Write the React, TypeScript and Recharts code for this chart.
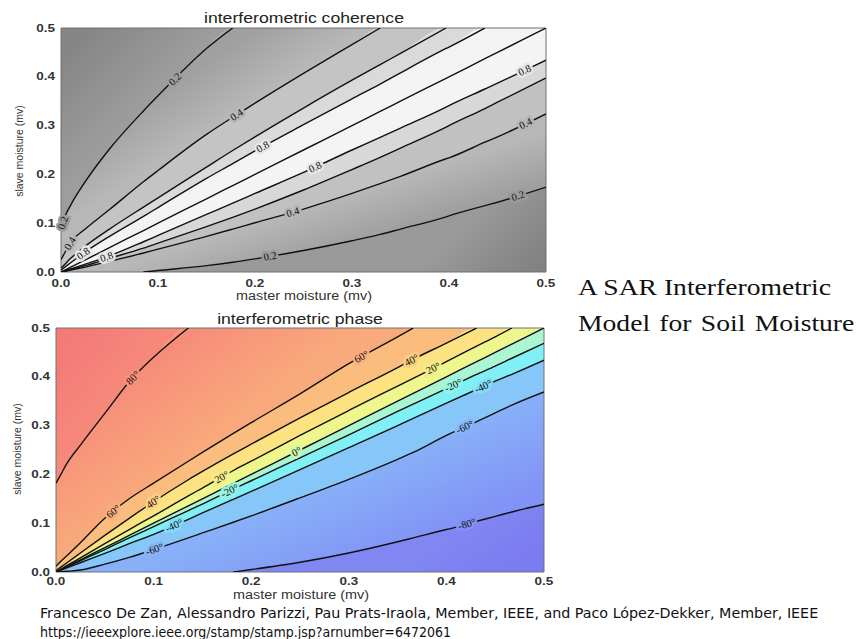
import React from "react";
import {
  ComposedChart,
  Area,
  Line,
  XAxis,
  YAxis,
  ReferenceDot,
  ReferenceArea,
} from "recharts";

// coherence contours, slave moisture read at a common master moisture grid
const cohX = [0, 0.004, 0.01, 0.025, 0.05, 0.085, 0.1, 0.15, 0.177, 0.2, 0.25, 0.3, 0.329, 0.35, 0.397, 0.4, 0.437, 0.45, 0.5];
const coh02a = [0.088, 0.113, 0.137, 0.185, 0.252, 0.33, 0.361, 0.458, 0.5, null, null, null, null, null, null, null, null, null, null];
const coh04a = [0.025, 0.04, 0.061, 0.088, 0.128, 0.185, 0.208, 0.282, 0.317, 0.346, 0.407, 0.466, 0.5, null, null, null, null, null, null];
const coh06a = [0.008, 0.016, 0.028, 0.053, 0.088, 0.133, 0.152, 0.215, 0.249, 0.277, 0.336, 0.393, 0.425, 0.448, 0.5, null, null, null, null];
const coh08a = [0.004, 0.01, 0.019, 0.041, 0.073, 0.114, 0.132, 0.192, 0.222, 0.248, 0.302, 0.355, 0.385, 0.408, 0.458, 0.461, 0.5, null, null];
const coh10 = [0, 0.004, 0.01, 0.025, 0.05, 0.085, 0.1, 0.15, 0.177, 0.2, 0.25, 0.3, 0.329, 0.35, 0.397, 0.4, 0.437, 0.45, 0.5];
const coh08b = [0, 0.0025, 0.0065, 0.016, 0.033, 0.062, 0.075, 0.118, 0.141, 0.161, 0.204, 0.25, 0.276, 0.295, 0.338, 0.341, 0.375, 0.387, 0.434];
const coh06b = [0, 0.002, 0.005, 0.013, 0.028, 0.049, 0.059, 0.093, 0.112, 0.129, 0.168, 0.21, 0.235, 0.254, 0.297, 0.3, 0.335, 0.348, 0.3975];
const coh04b = [0, 0.0015, 0.004, 0.01, 0.022, 0.039, 0.047, 0.073, 0.088, 0.101, 0.129, 0.161, 0.181, 0.196, 0.232, 0.234, 0.266, 0.277, 0.324];
const coh02b = [null, null, null, null, null, 0, 0.003, 0.013, 0.02, 0.027, 0.044, 0.064, 0.077, 0.088, 0.113, 0.115, 0.136, 0.143, 0.174];

// phase contours (degrees), same idea
const phX = [0, 0.005, 0.012, 0.025, 0.05, 0.075, 0.1, 0.1356, 0.15, 0.1817, 0.2, 0.25, 0.3, 0.35, 0.366, 0.4, 0.431, 0.45, 0.467, 0.5];
const ph80 = [0.182, 0.2, 0.225, 0.26, 0.325, 0.39, 0.44, 0.5, null, null, null, null, null, null, null, null, null, null, null, null];
const ph60 = [0.012, 0.022, 0.035, 0.06, 0.11, 0.15, 0.182, 0.227, 0.245, 0.284, 0.306, 0.365, 0.427, 0.482, 0.5, null, null, null, null, null];
const ph40 = [0.003, 0.01, 0.02, 0.039, 0.075, 0.11, 0.144, 0.189, 0.206, 0.242, 0.262, 0.316, 0.368, 0.419, 0.436, 0.469, 0.5, null, null, null];
const ph20 = [0, 0.006, 0.014, 0.029, 0.058, 0.087, 0.115, 0.156, 0.172, 0.208, 0.227, 0.28, 0.331, 0.381, 0.397, 0.431, 0.463, 0.482, 0.5, null];
const ph0 = [0, 0.005, 0.012, 0.025, 0.05, 0.075, 0.1, 0.1356, 0.15, 0.1817, 0.2, 0.25, 0.3, 0.35, 0.366, 0.4, 0.431, 0.45, 0.467, 0.5];
const phm20 = [0, 0.0045, 0.011, 0.023, 0.046, 0.07, 0.093, 0.126, 0.139, 0.17, 0.187, 0.234, 0.281, 0.329, 0.344, 0.376, 0.405, 0.422, 0.438, 0.4686];
const phm40 = [0, 0.0038, 0.009, 0.019, 0.038, 0.058, 0.077, 0.108, 0.121, 0.149, 0.165, 0.21, 0.255, 0.3, 0.315, 0.346, 0.374, 0.391, 0.405, 0.434];
const phm60 = [0, 0.0005, 0.0015, 0.004, 0.016, 0.03, 0.046, 0.07, 0.08, 0.102, 0.115, 0.152, 0.19, 0.231, 0.245, 0.28, 0.308, 0.326, 0.342, 0.369];
const phm80 = [null, null, null, null, null, null, null, null, null, 0, 0.005, 0.02, 0.039, 0.062, 0.07, 0.087, 0.104, 0.114, 0.123, 0.139];

const axisTicks = [0, 0.1, 0.2, 0.3, 0.4, 0.5];

type Lbl = { line: string; x: number; text: string };

const cohLabels: Lbl[] = [
  { line: "a02", x: 0.1175, text: "0.2" },
  { line: "a02", x: 0.002, text: "0.2" },
  { line: "a04", x: 0.181, text: "0.4" },
  { line: "a04", x: 0.0093, text: "0.4" },
  { line: "a08", x: 0.208, text: "0.8" },
  { line: "a08", x: 0.023, text: "0.8" },
  { line: "b08", x: 0.262, text: "0.8" },
  { line: "b08", x: 0.047, text: "0.8" },
  { line: "b08", x: 0.478, text: "0.8" },
  { line: "b04", x: 0.239, text: "0.4" },
  { line: "b04", x: 0.479, text: "0.4" },
  { line: "b02", x: 0.2155, text: "0.2" },
  { line: "b02", x: 0.471, text: "0.2" },
];

const phLabels: Lbl[] = [
  { line: "p80", x: 0.079, text: "80°" },
  { line: "p60", x: 0.0587, text: "60°" },
  { line: "p60", x: 0.313, text: "60°" },
  { line: "p40", x: 0.0997, text: "40°" },
  { line: "p40", x: 0.3644, text: "40°" },
  { line: "p20", x: 0.1698, text: "20°" },
  { line: "p20", x: 0.3866, text: "20°" },
  { line: "p0", x: 0.2466, text: "0°" },
  { line: "m20", x: 0.178, text: "-20°" },
  { line: "m20", x: 0.407, text: "-20°" },
  { line: "m40", x: 0.121, text: "-40°" },
  { line: "m40", x: 0.438, text: "-40°" },
  { line: "m60", x: 0.101, text: "-60°" },
  { line: "m60", x: 0.419, text: "-60°" },
  { line: "m80", x: 0.421, text: "-80°" },
];

const cohKeys = ["a02", "a04", "a06", "a08", "d10", "b08", "b06", "b04", "b02"];
const cohSeries = [coh02a, coh04a, coh06a, coh08a, coh10, coh08b, coh06b, coh04b, coh02b];
const cohRows = cohX.map((x, i) => {
  const r: any = { x };
  cohKeys.forEach((k, j) => (r[k] = cohSeries[j][i]));
  return r;
});
const cohColors = ["#909090", "#aaaaaa", "#c4c4c4", "#dadada", "#f3f3f3", "#f4f4f4", "#d8d8d8", "#c1c1c1", "#a8a8a8", "#8c8c8c"];

const phKeys = ["p80", "p60", "p40", "p20", "p0", "m20", "m40", "m60", "m80"];
const phSeries = [ph80, ph60, ph40, ph20, ph0, phm20, phm40, phm60, phm80];
const phRows = phX.map((x, i) => {
  const r: any = { x };
  phKeys.forEach((k, j) => (r[k] = phSeries[j][i]));
  return r;
});
const phColors = ["#f5827a", "#f89c7b", "#fbbd7e", "#fde282", "#eef78e", "#aaf6d2", "#80eff6", "#87c6f8", "#86a3f7", "#7f82f2"];

// smooth shading for the wide outer bands (chart pixel space)
type Grad = { band: number; id: string; x1: number; y1: number; x2: number; y2: number; c1: string; c2: string };
const cohGrads: Grad[] = [
  { band: 0, id: "cg0", x1: 92, y1: 30, x2: 157, y2: 93, c1: "#868686", c2: "#9d9d9d" },
  { band: 1, id: "cg1", x1: 157, y1: 93, x2: 190, y2: 144, c1: "#a0a0a0", c2: "#b8b8b8" },
  { band: 8, id: "cg8", x1: 400, y1: 229, x2: 385, y2: 182, c1: "#9f9f9f", c2: "#b8b8b8" },
  { band: 9, id: "cg9", x1: 546, y1: 272, x2: 480, y2: 206, c1: "#7f7f7f", c2: "#9a9a9a" },
];
const phGrads: Grad[] = [
  { band: 0, id: "pg0", x1: 70, y1: 40, x2: 125, y2: 85, c1: "#f47a78", c2: "#f6897a" },
  { band: 1, id: "pg1", x1: 133, y1: 77, x2: 194, y2: 158, c1: "#f68d7a", c2: "#f9aa7c" },
  { band: 8, id: "pg8", x1: 467, y1: 223, x2: 432, y2: 142, c1: "#8292f5", c2: "#87b0f8" },
  { band: 9, id: "pg9", x1: 467, y1: 223, x2: 500, y2: 272, c1: "#8087f3", c2: "#7b7cf0" },
];

const hex = (c: string) => [1, 3, 5].map((i) => parseInt(c.slice(i, i + 2), 16));
const mix = (a: string, b: string) => {
  const p = hex(a), q = hex(b);
  return "rgb(" + p.map((v, i) => Math.round((v + q[i]) / 2)).join(",") + ")";
};

const sans = "'Liberation Sans', Arial, Helvetica, sans-serif";
const serif = "'Liberation Serif', 'Times New Roman', serif";

const mkTick = (isX: boolean) => (p: any) => {
  const { x, y, payload, textAnchor } = p;
  return (
    <g transform={`translate(${x},${y}) scale(1.35,1)`}>
      <text
        x={0}
        y={0}
        dy={isX ? "0.71em" : "0.35em"}
        textAnchor={textAnchor}
        fontSize={10}
        fontWeight="bold"
        fontFamily={sans}
        fill="#333"
      >
        {Number(payload.value).toFixed(1)}
      </text>
    </g>
  );
};

interface PlotProps {
  rows: any[];
  keys: string[];
  colors: string[];
  grads: Grad[];
  bottomStart: string[];
  labels: Lbl[];
  width: number;
  height: number;
  right: number;
  yAxisW: number;
  xTickSize: number;
}

function ContourPlot({ rows, keys, colors, grads, bottomStart, labels, width, height, right, yAxisW, xTickSize }: PlotProps) {
  const top = 28;
  const xAxisH = 28;
  const plotW = width - yAxisW - right;
  const plotH = height - top - xAxisH;
  const fb = (k: string) => (bottomStart.includes(k) ? 0 : 0.5);
  const val = (r: any, k: string) => (r[k] == null ? fb(k) : r[k]);
  const n = keys.length;

  const locate = (k: string, x: number) => {
    for (let i = 0; i < rows.length - 1; i++) {
      const a = rows[i], b = rows[i + 1];
      if (a[k] == null || b[k] == null) continue;
      if (x >= a.x && x <= b.x) {
        const s = (b[k] - a[k]) / (b.x - a.x);
        return { y: a[k] + s * (x - a.x), s };
      }
    }
    return { y: 0, s: 0 };
  };

  const fillOf = (i: number) => {
    const g = grads.find((d) => d.band === i);
    return g ? `url(#${g.id})` : colors[i];
  };

  return (
    <ComposedChart
      width={width}
      height={height}
      data={rows}
      margin={{ top, right, bottom: 0, left: 0 }}
    >
      <XAxis
        dataKey="x"
        type="number"
        domain={[0, 0.5]}
        ticks={axisTicks}
        allowDataOverflow
        axisLine={false}
        tickLine={false}
        tickSize={xTickSize}
        tickMargin={2}
        height={xAxisH}
        tick={mkTick(true)}
        interval={0}
      />
      <YAxis
        type="number"
        domain={[0, 0.5]}
        ticks={axisTicks}
        allowDataOverflow
        axisLine={false}
        tickLine={false}
        tickSize={4}
        tickMargin={2}
        width={yAxisW}
        tick={mkTick(false)}
        interval={0}
      />
      {colors.map((c, i) => (
        <Area
          key={"band" + i}
          type="monotone"
          dataKey={(r: any) => [
            i === n ? 0 : val(r, keys[i]),
            i === 0 ? 0.5 : val(r, keys[i - 1]),
          ]}
          stroke="none"
          fill={fillOf(i)}
          fillOpacity={1}
          isAnimationActive={false}
          activeDot={false}
        />
      ))}
      {keys.map((k) => (
        <Line
          key={k}
          type="monotone"
          dataKey={k}
          stroke="#111"
          strokeWidth={1.4}
          dot={false}
          activeDot={false}
          isAnimationActive={false}
        />
      ))}
      {labels.map((l, i) => {
        const { y, s } = locate(l.line, l.x);
        const ang = (-Math.atan((s * plotH) / plotW) * 180) / Math.PI;
        const j = keys.indexOf(l.line);
        const gap = mix(colors[j], colors[j + 1]);
        return (
          <ReferenceDot
            key={"lbl" + i}
            x={l.x}
            y={y}
            r={0}
            ifOverflow="visible"
            shape={(p: any) => (
              <text
                x={p.cx}
                y={p.cy}
                transform={`rotate(${ang} ${p.cx} ${p.cy})`}
                textAnchor="middle"
                dominantBaseline="central"
                fontSize={10.5}
                fontFamily={serif}
                stroke={gap}
                strokeWidth={5}
                paintOrder="stroke"
                fill="#111"
              >
                {l.text}
              </text>
            )}
          />
        );
      })}
      <ReferenceArea
        x1={0}
        x2={0.5}
        y1={0}
        y2={0.5}
        fill="none"
        stroke="#707070"
        strokeWidth={1}
        ifOverflow="visible"
      />
    </ComposedChart>
  );
}

function Txt({ x, y, size, sx = 1, rot = 0, children, weight = "normal", family = sans, color = "#222" }: any) {
  return (
    <div
      style={{
        position: "absolute",
        left: x,
        top: y,
        transform: `translate(-50%, -50%) rotate(${rot}deg) scale(${sx}, 1)`,
        fontSize: size,
        fontFamily: family,
        fontWeight: weight,
        color,
        whiteSpace: "nowrap",
        lineHeight: 1,
      }}
    >
      {children}
    </div>
  );
}

export default function App() {
  return (
    <div style={{ position: "absolute", left: 0, top: 0, width: 856, height: 639, background: "#fff", overflow: "hidden" }}>
      <svg width={0} height={0} style={{ position: "absolute" }}>
        <defs>
          {[...cohGrads, ...phGrads].map((g) => (
            <linearGradient key={g.id} id={g.id} gradientUnits="userSpaceOnUse" x1={g.x1} y1={g.y1} x2={g.x2} y2={g.y2}>
              <stop offset="0" stopColor={g.c1} />
              <stop offset="1" stopColor={g.c2} />
            </linearGradient>
          ))}
        </defs>
      </svg>

      <div style={{ position: "absolute", left: 0, top: 0 }}>
        <ContourPlot
          rows={cohRows}
          keys={cohKeys}
          colors={cohColors}
          grads={cohGrads}
          bottomStart={["b02"]}
          labels={cohLabels}
          width={560}
          height={300}
          right={14}
          yAxisW={61}
          xTickSize={6}
        />
      </div>
      <div style={{ position: "absolute", left: 0, top: 300 }}>
        <ContourPlot
          rows={phRows}
          keys={phKeys}
          colors={phColors}
          grads={phGrads}
          bottomStart={["m80"]}
          labels={phLabels}
          width={560}
          height={300}
          right={16}
          yAxisW={56}
          xTickSize={4}
        />
      </div>

      <Txt x={304} y={18} size={14} sx={1.26}>interferometric coherence</Txt>
      <Txt x={304} y={296} size={12} sx={1.2} color="#333">master moisture (mv)</Txt>
      <Txt x={19} y={151} size={10.5} rot={-90} color="#333">slave moisture (mv)</Txt>

      <Txt x={300} y={319} size={14} sx={1.26}>interferometric phase</Txt>
      <Txt x={301} y={595} size={12} sx={1.2} color="#333">master moisture (mv)</Txt>
      <Txt x={17} y={449} size={10.5} rot={-90} color="#333">slave moisture (mv)</Txt>

      <div
        style={{
          position: "absolute",
          left: 578,
          top: 278,
          fontFamily: serif,
          fontSize: 23,
          lineHeight: "36px",
          color: "#111",
          whiteSpace: "nowrap",
          transform: "scale(1.2, 1)",
          transformOrigin: "left top",
        }}
      >
        <div style={{ height: 36, marginTop: -8 }}>A SAR Interferometric</div>
        <div style={{ height: 36, wordSpacing: 2 }}>Model for Soil Moisture</div>
      </div>

      <div
        style={{
          position: "absolute",
          left: 40,
          top: 604,
          fontFamily: "'DejaVu Sans Condensed', 'DejaVu Sans', sans-serif",
          fontStretch: "condensed",
          fontSize: 14,
          lineHeight: "19px",
          color: "#111",
          whiteSpace: "nowrap",
        }}
      >
        <div style={{ transform: "scale(1.134, 1)", transformOrigin: "left center" }}>
          Francesco De Zan, Alessandro Parizzi, Pau Prats-Iraola, Member, IEEE, and Paco López-Dekker, Member, IEEE
        </div>
        <div>https://ieeexplore.ieee.org/stamp/stamp.jsp?arnumber=6472061</div>
      </div>
    </div>
  );
}
